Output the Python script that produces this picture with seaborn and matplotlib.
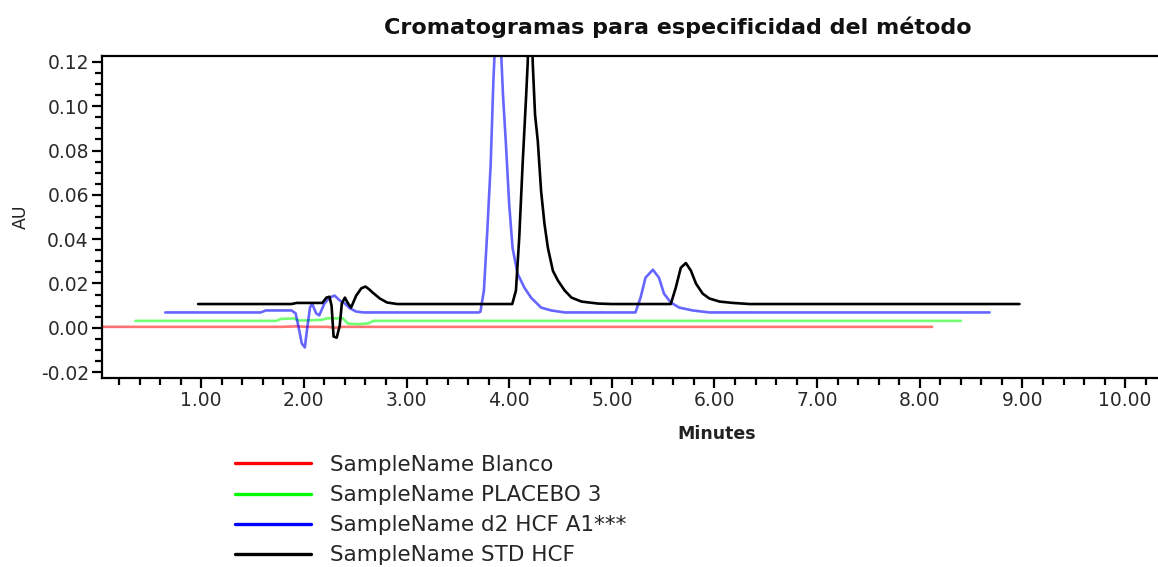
import matplotlib
matplotlib.use("Agg")
import matplotlib.pyplot as plt
from matplotlib.lines import Line2D
from matplotlib.ticker import MultipleLocator, FormatStrFormatter
import seaborn as sns

# Chromatogram traces (retention time in minutes, absorbance in AU)
blanco_t = [0.00, 1.78, 1.93, 2.03, 2.23, 2.31, 2.38, 2.58, 8.12]
blanco_au = [0.0004, 0.0004, 0.0006, 0.0004, 0.0004, 0.0000, 0.0004, 0.0004, 0.0004]

placebo_t = [0.36, 1.73, 1.78, 1.90, 1.95, 2.03, 2.18, 2.23, 2.38, 2.43, 2.53,
             2.63, 2.68, 8.40]
placebo_au = [0.0031, 0.0031, 0.0040, 0.0042, 0.0033, 0.0033, 0.0036, 0.0043,
              0.0042, 0.0019, 0.0016, 0.0020, 0.0031, 0.0031]

muestra_t = [0.65, 1.58, 1.63, 1.88, 1.92, 1.95, 1.98, 2.01, 2.03, 2.06, 2.08,
             2.12, 2.15, 2.20, 2.25, 2.30, 2.35, 2.40, 2.45, 2.51, 2.58,
             3.70, 3.72, 3.754, 3.787, 3.82, 3.846, 3.86, 3.888, 3.92, 3.94,
             3.967, 4.00, 4.033, 4.082, 4.148, 4.213, 4.311, 4.41, 4.54,
             5.23, 5.28, 5.328, 5.40, 5.459, 5.508, 5.574, 5.656, 5.787, 5.95,
             8.68]
muestra_au = [0.0069, 0.0069, 0.0078, 0.0078, 0.0065, 0.0000, -0.0071, -0.0089,
              -0.0012, 0.0091, 0.0109, 0.0065, 0.0056, 0.0109, 0.0136, 0.0145,
              0.0123, 0.0109, 0.0087, 0.0073, 0.0069,
              0.0069, 0.0072, 0.0168, 0.0437, 0.0738, 0.1110, 0.1260, 0.1500,
              0.1260, 0.1050, 0.0842, 0.0559, 0.0361, 0.0244, 0.0181, 0.0136,
              0.0091, 0.0078, 0.0069,
              0.0069, 0.0136, 0.0226, 0.0262, 0.0226, 0.0154, 0.0114, 0.0091,
              0.0078, 0.0069, 0.0069]

std_t = [0.97, 1.88, 1.93, 2.18, 2.22, 2.25, 2.27, 2.29, 2.32, 2.35, 2.37, 2.40,
         2.43, 2.46, 2.51, 2.56, 2.60, 2.64, 2.67, 2.74, 2.81, 2.91,
         4.03, 4.066, 4.098, 4.131, 4.164, 4.18, 4.21, 4.23, 4.252, 4.279,
         4.311, 4.344, 4.377, 4.426, 4.475, 4.541, 4.607, 4.705, 4.869, 5.00,
         5.574, 5.623, 5.672, 5.721, 5.77, 5.82, 5.885, 5.95, 6.05, 6.18, 6.34,
         8.97]
std_au = [0.0107, 0.0107, 0.0112, 0.0112, 0.0136, 0.0140, 0.0100, -0.0040,
          -0.0045, 0.0010, 0.0110, 0.0136, 0.0110, 0.0091, 0.0145, 0.0178,
          0.0186, 0.0172, 0.0159, 0.0132, 0.0114, 0.0107,
          0.0107, 0.0168, 0.0406, 0.0738, 0.1035, 0.1190, 0.1600, 0.1190,
          0.0963, 0.0842, 0.0617, 0.0469, 0.0361, 0.0257, 0.0213, 0.0168,
          0.0136, 0.0118, 0.0109, 0.0107,
          0.0107, 0.0181, 0.0271, 0.0292, 0.0258, 0.0199, 0.0154, 0.0132,
          0.0118, 0.0112, 0.0107, 0.0107]

labels = ["SampleName Blanco", "SampleName PLACEBO 3",
          "SampleName d2 HCF A1***", "SampleName STD HCF"]
colors = ["#ff0000", "#00ff00", "#0000ff", "#000000"]
trace_alpha = [0.55, 0.55, 0.6, 1.0]
trace_width = [1.9, 1.9, 1.9, 1.9]

sns.set_theme(style="white")
plt.rcParams["font.family"] = ["DejaVu Sans"]

W, H = 1158, 567
fig = plt.figure(figsize=(W / 100, H / 100), dpi=100)
ax = fig.add_axes([102 / W, 1 - 378 / H, (W - 102) / W, (378 - 56) / H])

traces = [(blanco_t, blanco_au), (placebo_t, placebo_au),
          (muestra_t, muestra_au), (std_t, std_au)]
for (t, au), c, a, lw in zip(traces, colors, trace_alpha, trace_width):
    sns.lineplot(x=t, y=au, ax=ax, color=c, alpha=a, linewidth=lw,
                 sort=False, estimator=None)

ax.set_xlim(0.034, 10.32)
ax.set_ylim(-0.0227, 0.1227)

ax.xaxis.set_major_locator(MultipleLocator(1.0))
ax.xaxis.set_minor_locator(MultipleLocator(0.2))
ax.yaxis.set_major_locator(MultipleLocator(0.02))
ax.yaxis.set_minor_locator(MultipleLocator(0.005))
ax.xaxis.set_major_formatter(FormatStrFormatter("%.2f"))
ax.yaxis.set_major_formatter(FormatStrFormatter("%.2f"))
ax.set_xticks([1, 2, 3, 4, 5, 6, 7, 8, 9, 10])

for side in ["left", "top", "bottom"]:
    ax.spines[side].set_visible(True)
    ax.spines[side].set_color("black")
    ax.spines[side].set_linewidth(1.6)
ax.spines["right"].set_visible(False)

ax.tick_params(axis="both", which="major", direction="out", length=7.5,
               width=1.6, color="black", labelsize=13.5, labelcolor="#2a2a2a",
               pad=2)
ax.tick_params(axis="both", which="minor", direction="out", length=5,
               width=1.6, color="black")
ax.tick_params(axis="x", which="both", bottom=True, top=False)
ax.tick_params(axis="y", which="both", left=True, right=False)
ax.grid(False)

ax.set_title("Cromatogramas para especificidad del método", fontsize=16,
             fontweight="bold", color="#111111", x=0.545, y=1.068, pad=0)
ax.set_xlabel("Minutes", fontsize=12.5, fontweight="bold", color="#222222")
ax.xaxis.set_label_coords(0.582, -0.145)
ax.set_ylabel("AU", fontsize=12.5, color="#222222")
ax.yaxis.set_label_coords(-0.068, 0.5)

handles = [Line2D([], [], color=c, linewidth=2.4) for c in colors]
fig.legend(handles, labels, loc="upper left",
           bbox_to_anchor=(235 / W, 1 - 455 / H), frameon=False,
           fontsize=15.5, handlelength=3.55, handletextpad=0.85,
           labelspacing=0.47, borderaxespad=0, borderpad=0)

fig.savefig("out.png", dpi=100)
